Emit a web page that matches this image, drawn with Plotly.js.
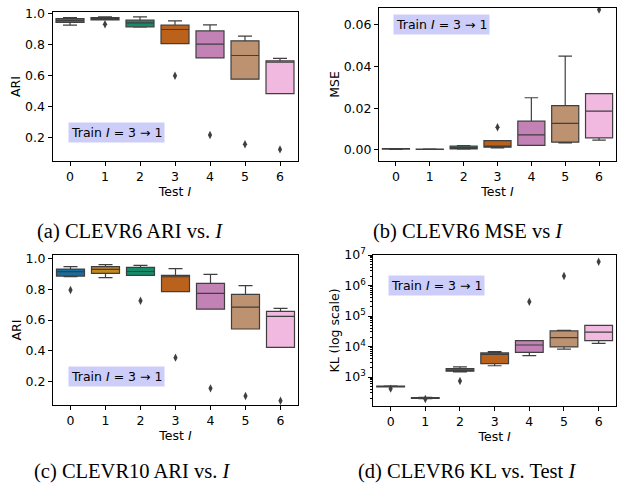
<!DOCTYPE html>
<html>
<head>
<meta charset="utf-8">
<script src="https://cdn.plot.ly/plotly-3.0.1.min.js"></script>
<style>html,body{margin:0;padding:0;background:#fff;}#chart{width:620px;height:485px;}</style>
</head>
<body>
<div id="chart"></div>
<script>
// Categories (Test I)
const categories = [0, 1, 2, 3, 4, 5, 6];
const boxColors = ['#176d9c', '#c38820', '#158b6a', '#ba611b', '#c282b5', '#bd9270', '#f1b8e0'];

// (a) CLEVR6 ARI
const aLo  = [0.925, 0.959, 0.912, 0.806, 0.714, 0.576, 0.482];
const aQ1  = [0.942, 0.959, 0.914, 0.806, 0.714, 0.576, 0.482];
const aMed = [0.955, 0.968, 0.940, 0.897, 0.802, 0.729, 0.686];
const aQ3  = [0.968, 0.974, 0.957, 0.925, 0.888, 0.824, 0.695];
const aHi  = [0.974, 0.978, 0.978, 0.953, 0.927, 0.854, 0.710];
const aOutX = [1, 3, 4, 5, 6];
const aOutY = [0.931, 0.598, 0.215, 0.155, 0.122];

// (b) CLEVR6 MSE
const bLo  = [0.0003, 0.0002, 0.0004, 0.0010, 0.0022, 0.0034, 0.0047];
const bQ1  = [0.0004, 0.0002, 0.0005, 0.0013, 0.0022, 0.0037, 0.0058];
const bMed = [0.0005, 0.0003, 0.0011, 0.0018, 0.0072, 0.0127, 0.0186];
const bQ3  = [0.0006, 0.0004, 0.0018, 0.0045, 0.0138, 0.0212, 0.0270];
const bHi  = [0.0007, 0.0005, 0.0021, 0.0045, 0.0250, 0.0449, 0.0270];
const bOutX = [3, 6];
const bOutY = [0.0109, 0.0672];

// (c) CLEVR10 ARI
const cLo  = [0.881, 0.875, 0.890, 0.784, 0.671, 0.542, 0.423];
const cQ1  = [0.885, 0.903, 0.890, 0.784, 0.671, 0.542, 0.423];
const cMed = [0.914, 0.929, 0.915, 0.881, 0.773, 0.684, 0.624];
const cQ3  = [0.931, 0.946, 0.942, 0.890, 0.838, 0.766, 0.656];
const cHi  = [0.946, 0.959, 0.955, 0.933, 0.896, 0.823, 0.676];
const cOutX = [0, 2, 3, 4, 5, 6];
const cOutY = [0.795, 0.725, 0.356, 0.157, 0.107, 0.077];

// (d) CLEVR6 KL (log scale)
const dLo  = [470, 195, 1480, 2340, 5000, 8200, 12600];
const dQ1  = [475, 200, 1550, 2750, 6460, 9700, 15500];
const dMed = [490, 205, 1660, 5560, 11200, 19500, 29500];
const dQ3  = [505, 210, 1900, 6170, 15700, 32500, 49000];
const dHi  = [510, 215, 2150, 6800, 15700, 34000, 49000];
const dOutX = [0, 1, 2, 4, 5, 6];
const dOutY = [415, 190, 740, 295000, 2040000, 6000000];

const kTickVals = [1e3, 1e4, 1e5, 1e6, 1e7];
const kTickText = ['10<sup>3</sup>', '10<sup>4</sup>', '10<sup>5</sup>', '10<sup>6</sup>', '10<sup>7</sup>'];

const lineCol = '#3f3f3f';
const traces = [];
function addPanel(xa, ya, lo, q1, med, q3, hi, outX, outY) {
  categories.forEach((c, i) => {
    traces.push({
      type: 'box', xaxis: xa, yaxis: ya,
      x: [c], q1: [q1[i]], median: [med[i]], q3: [q3[i]],
      lowerfence: [lo[i]], upperfence: [hi[i]],
      width: 0.8, whiskerwidth: 0.5,
      fillcolor: boxColors[i],
      line: {color: lineCol, width: 1.2},
      boxpoints: false, showlegend: false, hoverinfo: 'skip'
    });
  });
  traces.push({
    type: 'scatter', mode: 'markers', xaxis: xa, yaxis: ya,
    x: outX, y: outY, showlegend: false, hoverinfo: 'skip',
    marker: {symbol: 'diamond-tall', size: 6, color: lineCol}
  });
}
addPanel('x', 'y', aLo, aQ1, aMed, aQ3, aHi, aOutX, aOutY);
addPanel('x2', 'y2', bLo, bQ1, bMed, bQ3, bHi, bOutX, bOutY);
addPanel('x3', 'y3', cLo, cQ1, cMed, cQ3, cHi, cOutX, cOutY);
addPanel('x4', 'y4', dLo, dQ1, dMed, dQ3, dHi, dOutX, dOutY);

const tickFont = {family: 'DejaVu Sans', size: 12.5, color: '#000'};
function xAxis(dom, anchor) {
  return {
    domain: dom, anchor: anchor, range: [-0.5, 6.5],
    tickvals: categories, ticktext: categories.map(String),
    showline: true, linecolor: '#000', linewidth: 1, mirror: true,
    ticks: 'outside', ticklen: 4, tickcolor: '#000', tickwidth: 1,
    showgrid: false, zeroline: false, tickfont: tickFont,
    title: {text: 'Test <i>I</i>', font: tickFont, standoff: 0}
  };
}
function yAxis(dom, anchor, range, title, extra) {
  return Object.assign({
    domain: dom, anchor: anchor, range: range,
    showline: true, linecolor: '#000', linewidth: 1, mirror: true,
    ticks: 'outside', ticklen: 4, tickcolor: '#000', tickwidth: 1,
    showgrid: false, zeroline: false, tickfont: tickFont,
    title: {text: title, font: tickFont, standoff: 1}
  }, extra || {});
}

const W = 620, H = 485;
const px = (a, b) => [a / W, b / W];
const py = (top, bot) => [1 - bot / H, 1 - top / H];

const trainText = 'Train <i>I</i> = 3 → 1';
function trainNote(xr, yr, x, y, yanchor) {
  return {
    xref: xr, yref: yr, x: x, y: y, xanchor: 'left', yanchor: yanchor,
    text: trainText, showarrow: false, bgcolor: '#cdcdf9', borderpad: 2,
    font: {family: 'DejaVu Sans', size: 12.5, color: '#000'}
  };
}
const capFont = {family: 'Liberation Serif', size: 20.5, color: '#000'};
function caption(x, y, text) {
  return {xref: 'paper', yref: 'paper', x: x / W, y: 1 - y / H, xanchor: 'center', yanchor: 'middle',
          text: text, showarrow: false, font: capFont};
}

const layout = {
  width: W, height: H, margin: {l: 0, r: 0, t: 0, b: 0},
  paper_bgcolor: '#fff', plot_bgcolor: '#fff', showlegend: false,
  boxmode: 'overlay',
  xaxis: xAxis(px(52.5, 297.5), 'y'),
  yaxis: yAxis(py(12, 161), 'x', [0.047, 1.01], 'ARI', {tickvals: [0.2, 0.4, 0.6, 0.8, 1.0], tickformat: '.1f'}),
  xaxis2: xAxis(px(379, 616), 'y2'),
  yaxis2: yAxis(py(8, 161), 'x2', [-0.0053, 0.068], 'MSE', {tickvals: [0, 0.02, 0.04, 0.06], tickformat: '.2f'}),
  xaxis3: xAxis(px(53, 298), 'y3'),
  yaxis3: yAxis(py(255, 405), 'x3', [0.049, 1.022], 'ARI', {tickvals: [0.2, 0.4, 0.6, 0.8, 1.0], tickformat: '.1f'}),
  xaxis4: xAxis(px(373.3, 616), 'y4'),
  yaxis4: yAxis(py(255, 406), 'x4', [2.05, 7.0], 'KL (log scale)', {
    type: 'log', tickvals: kTickVals, ticktext: kTickText,
    minor: {ticks: 'outside', ticklen: 2, tickcolor: '#000', dtick: 'D1', showgrid: false}
  }),
  annotations: [
    trainNote('x domain', 'y domain', 0.063, 0.121, 'bottom'),
    trainNote('x2 domain', 'y2 domain', 0.059, 0.961, 'top'),
    trainNote('x3 domain', 'y3 domain', 0.061, 0.12, 'bottom'),
    trainNote('x4 domain', 'y4 domain', 0.061, 0.868, 'top'),
    caption(130, 231, '(a) CLEVR6 ARI vs. <i>I</i>'),
    caption(468, 231, '(b) CLEVR6 MSE vs <i>I</i>'),
    caption(132, 471, '(c) CLEVR10 ARI vs. <i>I</i>'),
    caption(467, 471, '(d) CLEVR6 KL vs. Test <i>I</i>')
  ]
};

Plotly.newPlot('chart', traces, layout, {staticPlot: true, displayModeBar: false});
</script>
</body>
</html>
